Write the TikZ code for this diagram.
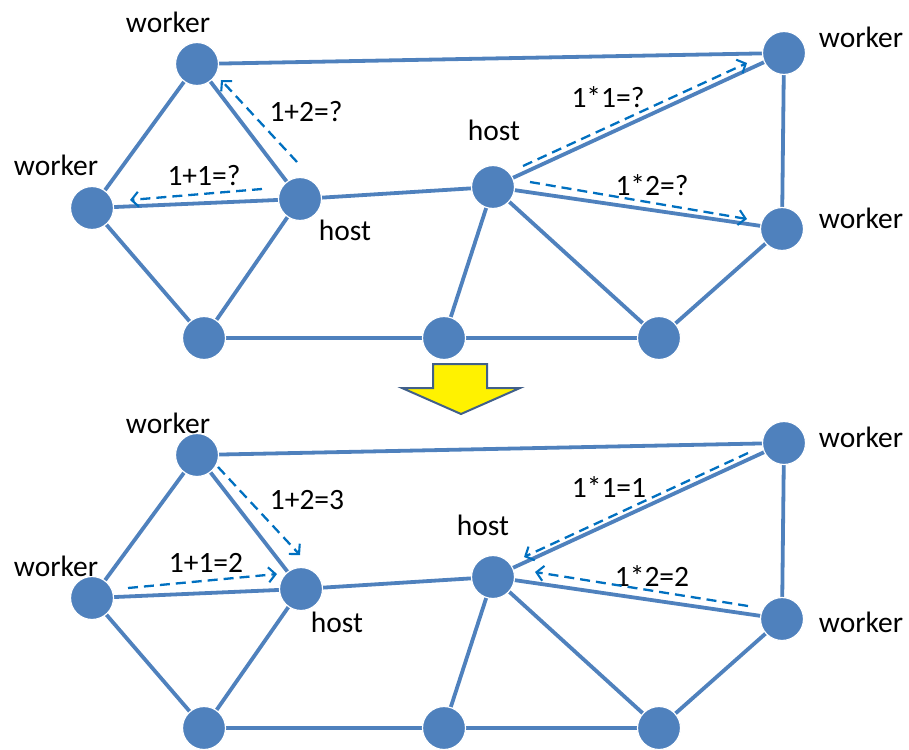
\documentclass[tikz,border=0pt]{standalone}
\usepackage{fontspec}
\setmainfont{Carlito}
\usetikzlibrary{arrows.meta}
\definecolor{netblue}{HTML}{4F81BD}
\definecolor{msgblue}{HTML}{0070C0}
\definecolor{arrowedge}{HTML}{41608A}
\begin{document}
\begin{tikzpicture}[x=1pt,y=-1pt,
  peer/.style={circle,fill=netblue,draw=white,line width=1.2pt,minimum size=43pt,inner sep=0pt},
  link/.style={netblue,line width=3.8pt},
  msg/.style={msgblue,line width=2.3pt,dash pattern=on 10pt off 6pt,
    -{Straight Barb[length=7pt,width=15pt,line width=2.1pt]}},
  lbl/.style={font=\fontsize{29.5}{34}\selectfont,inner sep=0pt,text=black}]
\useasboundingbox (0,0) rectangle (909,749);

% ---------- upper network: host sends jobs ----------
\node[peer] (a) at (197,64) {};
\node[peer] (b) at (92,208) {};
\node[peer] (c) at (300,199) {};
\node[peer] (d) at (204,338) {};
\node[peer] (e) at (444,338) {};
\node[peer] (f) at (493,187) {};
\node[peer] (g) at (659,338) {};
\node[peer] (h) at (784,53) {};
\node[peer] (i) at (782,229) {};

% ---------- lower network: workers return results ----------
\node[peer] (A) at (197,455) {};
\node[peer] (B) at (92,598) {};
\node[peer] (C) at (301,589) {};
\node[peer] (D) at (204,728) {};
\node[peer] (E) at (444,728) {};
\node[peer] (F) at (493,577) {};
\node[peer] (G) at (659,728) {};
\node[peer] (H) at (784,443) {};
\node[peer] (I) at (782,619) {};

% links (drawn, then nodes redrawn on top)
\foreach \p/\q in {a/h,a/b,a/c,b/c,b/d,c/d,c/f,d/e,e/g,e/f,f/g,f/h,f/i,h/i,g/i,
                   A/H,A/B,A/C,B/C,B/D,C/D,C/F,D/E,E/G,E/F,F/G,F/H,F/I,H/I,G/I}
  \draw[link] (\p.center) -- (\q.center);
\foreach \n/\x/\y in {a/197/64,b/92/208,c/300/199,d/204/338,e/444/338,f/493/187,g/659/338,h/784/53,i/782/229,
                      A/197/455,B/92/598,C/301/589,D/204/728,E/444/728,F/493/577,G/659/728,H/784/443,I/782/619}
  \node[peer] at (\x,\y) {};

% labels, upper
\node[lbl] (la) at (168,22) {worker};
\node[lbl] (lb) at (56,165) {worker};
\node[lbl] (lc) at (345,230) {host};
\node[lbl] (lf) at (494,130) {host};
\node[lbl] (lh) at (861,37) {worker};
\node[lbl] (li) at (861,218) {worker};
\node[lbl] (q1) at (306,112) {1+2=?};
\node[lbl] (q2) at (204,176) {1+1=?};
\node[lbl] (q3) at (608,97) {1*1=?};
\node[lbl] (q4) at (652,185) {1*2=?};

% labels, lower
\node[lbl] (lA) at (168,423) {worker};
\node[lbl] (lB) at (56,566) {worker};
\node[lbl] (lC) at (337,622) {host};
\node[lbl] (lF) at (483,525) {host};
\node[lbl] (lH) at (861,437) {worker};
\node[lbl] (lI) at (861,622) {worker};
\node[lbl] (r1) at (307,500) {1+2=3};
\node[lbl] (r2) at (206,563) {1+1=2};
\node[lbl] (r3) at (609,487) {1*1=1};
\node[lbl] (r4) at (652,576) {1*2=2};

% message arrows, upper
\coordinate (m1s) at (297,162); \coordinate (m1e) at (221,80);
\coordinate (m2s) at (262,189); \coordinate (m2e) at (130,200);
\coordinate (m3s) at (523,166); \coordinate (m3e) at (747,63);
\coordinate (m4s) at (530,182); \coordinate (m4e) at (747,219);
\draw[msg] (m1s) -- (m1e);
\draw[msg] (m2s) -- (m2e);
\draw[msg] (m3s) -- (m3e);
\draw[msg] (m4s) -- (m4e);

% message arrows, lower
\coordinate (n1s) at (218,467); \coordinate (n1e) at (300,555);
\coordinate (n2s) at (128,588); \coordinate (n2e) at (277,574);
\coordinate (n3s) at (748,453); \coordinate (n3e) at (524,557);
\coordinate (n4s) at (748,606); \coordinate (n4e) at (535,572);
\draw[msg] (n1s) -- (n1e);
\draw[msg] (n2s) -- (n2e);
\draw[msg] (n3s) -- (n3e);
\draw[msg] (n4s) -- (n4e);

% block arrow between the two states
\draw[arrowedge,fill=yellow,line width=2pt,line join=miter]
  (433,364) -- (487,364) -- (487,388) -- (520,388) -- (461,414)
  -- (402,388) -- (433,388) -- cycle;
\end{tikzpicture}
\end{document}
